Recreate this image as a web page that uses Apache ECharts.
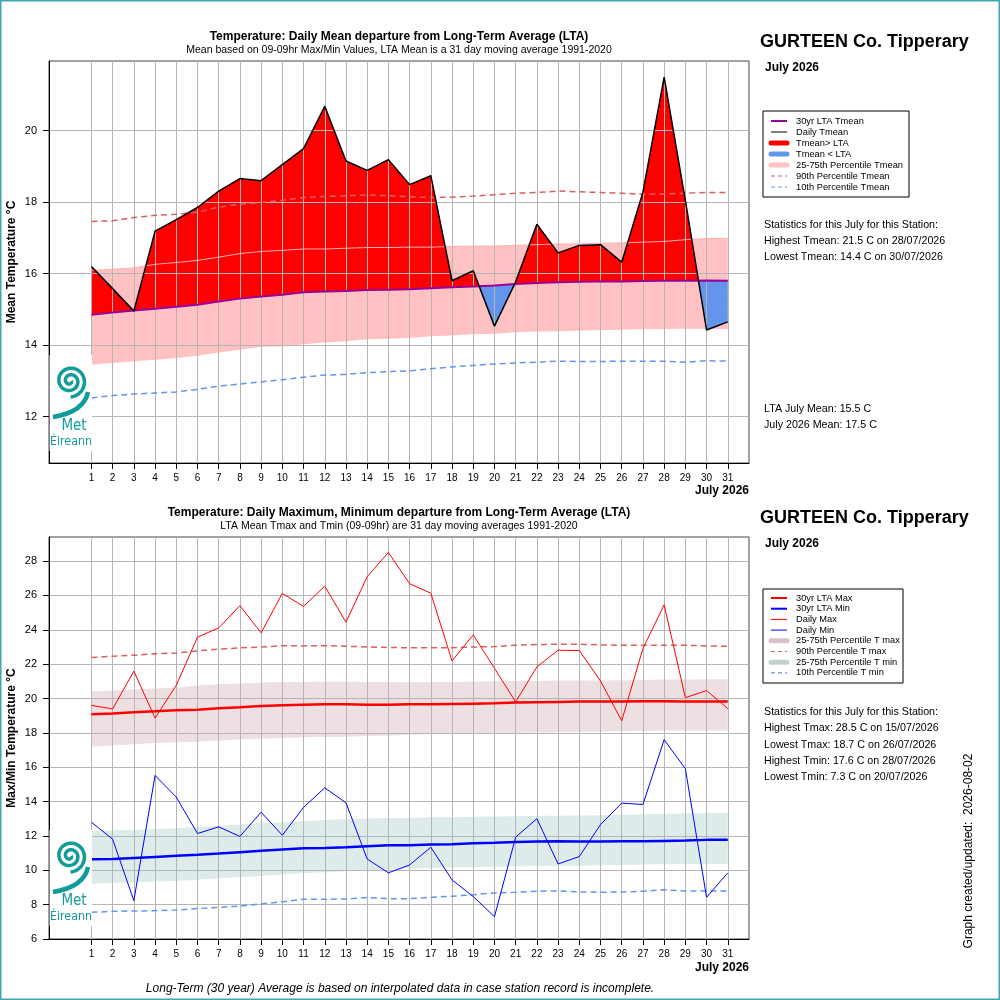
<!DOCTYPE html>
<html>
<head>
<meta charset="utf-8">
<title>GURTEEN Co. Tipperary - July 2026</title>
<script src="https://cdn.jsdelivr.net/npm/echarts@6/dist/echarts.min.js"></script>
<style>
  html, body { margin: 0; padding: 0; background: #fff; }
  #chart { width: 1000px; height: 1000px; }
</style>
</head>
<body>
<div id="chart"></div>
<script>
// ---- data ----
const days = [1, 2, 3, 4, 5, 6, 7, 8, 9, 10, 11, 12, 13, 14, 15, 16, 17, 18, 19, 20, 21, 22, 23, 24, 25, 26, 27, 28, 29, 30, 31];

// top panel: daily mean
const tmeanDaily = [16.20, 15.58, 14.95, 17.19, 17.51, 17.85, 18.31, 18.66, 18.60, 19.05, 19.50, 20.68, 19.15, 18.89, 19.19, 18.49, 18.74, 15.80, 16.08, 14.53, 15.77, 17.38, 16.58, 16.79, 16.81, 16.32, 18.28, 21.50, 18.05, 14.42, 14.65];
const ltaTmean = [14.85, 14.91, 14.97, 15.02, 15.07, 15.13, 15.22, 15.30, 15.36, 15.41, 15.48, 15.50, 15.51, 15.54, 15.55, 15.56, 15.59, 15.62, 15.64, 15.67, 15.71, 15.74, 15.76, 15.77, 15.78, 15.78, 15.79, 15.80, 15.80, 15.81, 15.80];
const p90Tmean = [17.46, 17.48, 17.57, 17.63, 17.66, 17.72, 17.86, 17.94, 17.99, 18.05, 18.13, 18.16, 18.18, 18.20, 18.18, 18.15, 18.13, 18.14, 18.17, 18.21, 18.25, 18.27, 18.31, 18.29, 18.27, 18.25, 18.22, 18.23, 18.25, 18.27, 18.27];
const p10Tmean = [12.52, 12.59, 12.63, 12.66, 12.69, 12.76, 12.85, 12.91, 12.97, 13.03, 13.10, 13.16, 13.18, 13.23, 13.26, 13.28, 13.34, 13.39, 13.43, 13.47, 13.50, 13.52, 13.55, 13.54, 13.54, 13.55, 13.55, 13.55, 13.52, 13.56, 13.55];
const p25Tmean = [13.46, 13.50, 13.55, 13.59, 13.64, 13.70, 13.79, 13.87, 13.95, 13.97, 14.02, 14.07, 14.11, 14.16, 14.18, 14.20, 14.25, 14.27, 14.30, 14.32, 14.36, 14.38, 14.39, 14.40, 14.42, 14.43, 14.45, 14.45, 14.46, 14.46, 14.45];
const p75Tmean = [16.09, 16.12, 16.16, 16.26, 16.31, 16.37, 16.46, 16.56, 16.62, 16.65, 16.69, 16.69, 16.71, 16.73, 16.73, 16.74, 16.74, 16.76, 16.77, 16.77, 16.79, 16.81, 16.83, 16.83, 16.85, 16.86, 16.88, 16.90, 16.95, 16.98, 16.99];

// bottom panel: daily max / min
const tmaxDaily = [19.60, 19.39, 21.59, 18.86, 20.77, 23.57, 24.11, 25.40, 23.82, 26.12, 25.36, 26.54, 24.44, 27.09, 28.50, 26.68, 26.13, 22.19, 23.70, 21.76, 19.80, 21.84, 22.81, 22.79, 21.02, 18.70, 22.91, 25.45, 20.05, 20.46, 19.41];
const tminDaily = [12.80, 11.81, 8.23, 15.52, 14.26, 12.14, 12.53, 11.97, 13.38, 12.04, 13.66, 14.80, 13.93, 10.66, 9.85, 10.31, 11.34, 9.44, 8.47, 7.30, 11.93, 13.00, 10.37, 10.80, 12.66, 13.91, 13.83, 17.60, 15.91, 8.43, 9.85];
const ltaTmax = [19.08, 19.12, 19.20, 19.25, 19.31, 19.35, 19.43, 19.49, 19.56, 19.60, 19.64, 19.66, 19.66, 19.64, 19.64, 19.66, 19.66, 19.68, 19.70, 19.72, 19.76, 19.78, 19.80, 19.82, 19.82, 19.82, 19.84, 19.84, 19.82, 19.82, 19.82];
const ltaTmin = [10.64, 10.66, 10.72, 10.78, 10.84, 10.90, 10.97, 11.05, 11.13, 11.21, 11.28, 11.30, 11.34, 11.40, 11.46, 11.46, 11.50, 11.52, 11.58, 11.60, 11.65, 11.67, 11.69, 11.67, 11.67, 11.69, 11.69, 11.71, 11.73, 11.77, 11.77];
const p90Tmax = [22.38, 22.46, 22.52, 22.60, 22.65, 22.77, 22.87, 22.95, 22.99, 23.08, 23.06, 23.08, 23.04, 23.00, 22.97, 22.95, 22.95, 22.95, 23.00, 23.02, 23.10, 23.14, 23.16, 23.16, 23.12, 23.10, 23.10, 23.10, 23.10, 23.06, 23.04];
const p10Tmin = [7.55, 7.61, 7.63, 7.65, 7.69, 7.77, 7.84, 7.92, 8.04, 8.17, 8.31, 8.31, 8.33, 8.41, 8.35, 8.35, 8.43, 8.49, 8.58, 8.68, 8.72, 8.78, 8.80, 8.74, 8.72, 8.74, 8.78, 8.86, 8.80, 8.80, 8.80];
const p25Tmax = [17.21, 17.27, 17.33, 17.41, 17.45, 17.48, 17.56, 17.62, 17.66, 17.70, 17.74, 17.76, 17.78, 17.82, 17.83, 17.91, 17.93, 17.95, 17.97, 17.99, 18.00, 18.02, 18.04, 18.05, 18.06, 18.09, 18.11, 18.13, 18.13, 18.13, 18.13];
const p75Tmax = [20.42, 20.47, 20.52, 20.58, 20.63, 20.75, 20.83, 20.87, 20.93, 20.96, 20.96, 20.98, 20.98, 20.96, 20.96, 20.94, 20.96, 20.96, 20.98, 21.00, 21.02, 21.02, 21.04, 21.04, 21.04, 21.06, 21.08, 21.10, 21.11, 21.12, 21.12];
const p25Tmin = [9.22, 9.26, 9.30, 9.34, 9.38, 9.45, 9.53, 9.60, 9.67, 9.75, 9.83, 9.89, 9.94, 9.99, 10.04, 10.10, 10.13, 10.16, 10.18, 10.20, 10.23, 10.25, 10.26, 10.27, 10.29, 10.31, 10.33, 10.35, 10.36, 10.37, 10.37];
const p75Tmin = [12.28, 12.31, 12.35, 12.40, 12.45, 12.52, 12.59, 12.67, 12.74, 12.80, 12.86, 12.92, 12.98, 13.02, 13.05, 13.05, 13.09, 13.09, 13.11, 13.13, 13.15, 13.17, 13.18, 13.19, 13.21, 13.23, 13.26, 13.29, 13.31, 13.33, 13.34];

const ticksTop = [12, 14, 16, 18, 20];
const ticksBottom = [6, 8, 10, 12, 14, 16, 18, 20, 22, 24, 26, 28];

const statsTop = ['Statistics for this July for this Station:', 'Highest Tmean: 21.5 C on 28/07/2026', 'Lowest Tmean: 14.4 C on 30/07/2026'];
const meansTop = ['LTA July Mean: 15.5 C', 'July 2026 Mean: 17.5 C'];
const statsBottom = ['Statistics for this July for this Station:', 'Highest Tmax: 28.5 C on 15/07/2026', 'Lowest Tmax: 18.7 C on 26/07/2026', 'Highest Tmin: 17.6 C on 28/07/2026', 'Lowest Tmin: 7.3 C on 20/07/2026'];

// ---- helpers ----
const FONT = 'Liberation Sans, Arial, sans-serif';
const TEAL = '#129b9b';
const DASH = [6, 4];

const pairs = vals => days.map((d, i) => [d, vals[i]]);

function bandPoly(lo, hi) {
    return pairs(hi).concat(pairs(lo).reverse());
}

// polygons between a daily line and its LTA, split where they cross
function splitFill(vals, base) {
    const above = [], below = [], ref = [];
    for (let i = 0; i < days.length; i++) {
        above.push([days[i], Math.max(vals[i], base[i])]);
        below.push([days[i], Math.min(vals[i], base[i])]);
        ref.push([days[i], base[i]]);
        if (i < days.length - 1) {
            const e0 = vals[i] - base[i], e1 = vals[i + 1] - base[i + 1];
            if (e0 * e1 < 0) {
                const t = e0 / (e0 - e1);
                const x = days[i] + t * (days[i + 1] - days[i]);
                const y = vals[i] + t * (vals[i + 1] - vals[i]);
                above.push([x, y]); below.push([x, y]); ref.push([x, y]);
            }
        }
    }
    const back = ref.slice().reverse();
    return { above: above.concat(back), below: below.concat(back) };
}

function polySeries(name, g, poly, color, z) {
    return {
        name, type: 'custom', xAxisIndex: g, yAxisIndex: g, z, silent: true,
        data: poly,
        renderItem: (params, api) => {
            if (params.dataIndex !== 0) return null;
            return {
                type: 'polygon',
                shape: { points: poly.map(p => api.coord(p)) },
                style: { fill: color }
            };
        }
    };
}

function lineSeries(name, g, vals, color, width, type, z) {
    return {
        name, type: 'line', xAxisIndex: g, yAxisIndex: g, z, silent: true,
        data: pairs(vals), symbol: 'none',
        lineStyle: { color, width, type: type || 'solid' }
    };
}

function xAxisFor(g) {
    return {
        type: 'value', gridIndex: g, min: -1, max: 32, z: 3,
        axisLine: { show: true, onZero: false, lineStyle: { color: '#000' } },
        axisTick: { show: true, customValues: days, length: 6, lineStyle: { color: '#000' } },
        axisLabel: { customValues: days, color: '#000', fontSize: 10, fontFamily: FONT, margin: 10 },
        splitLine: { show: true, lineStyle: { color: '#b5b5b5', width: 1 } }
    };
}

function yAxisFor(g, min, max, ticks) {
    return {
        type: 'value', gridIndex: g, min, max, z: 3,
        axisLine: { show: true, onZero: false, lineStyle: { color: '#000' } },
        axisTick: { show: true, customValues: ticks, length: 6, lineStyle: { color: '#000' } },
        axisLabel: { customValues: ticks, color: '#000', fontSize: 11, fontFamily: FONT, margin: 12 },
        splitLine: { show: true, lineStyle: { color: '#b5b5b5', width: 1 } }
    };
}

function txt(x, y, text, size, opts) {
    const o = opts || {};
    return {
        type: 'text', x, y, z: 30, rotation: o.rotation || 0,
        style: {
            text, fill: '#000', fontSize: size, fontFamily: FONT,
            fontWeight: o.bold ? 'bold' : 'normal', fontStyle: o.italic ? 'italic' : 'normal',
            textAlign: o.align || 'left', textVerticalAlign: 'middle'
        }
    };
}

function legendBox(x, y, w, h, rows, y0, step) {
    const els = [{ type: 'rect', z: 30, shape: { x, y, width: w, height: h }, style: { fill: '#fff', stroke: '#000', lineWidth: 1 } }];
    rows.forEach((r, i) => {
        const yy = y0 + i * step;
        els.push({
            type: 'line', z: 31,
            shape: { x1: 771, y1: yy, x2: 787, y2: yy },
            style: { stroke: r.color, lineWidth: r.width, lineDash: r.dash || null, lineCap: r.width > 3 ? 'round' : 'butt' }
        });
        els.push(txt(796, yy, r.label, 9.3));
    });
    return els;
}

function logo(dy) {
    const cx = 70, cy = 381 + dy;
    const spiral = [];
    for (let a = 0; a <= Math.PI * 4.5; a += 0.1) {
        const r = 1.2 + a * 1.05;
        spiral.push([cx + r * Math.cos(a), cy + r * Math.sin(a)]);
    }
    return [
        { type: 'rect', z: 20, shape: { x: 49.5, y: 355 + dy, width: 42.5, height: 96 }, style: { fill: '#fff' } },
        { type: 'polyline', z: 21, shape: { points: spiral }, style: { stroke: TEAL, lineWidth: 3.5, fill: null } },
        { type: 'bezierCurve', z: 21, shape: { x1: 88, y1: 392 + dy, cpx1: 84, cpy1: 412 + dy, x2: 53, y2: 417 + dy }, style: { stroke: TEAL, lineWidth: 4.5, fill: null } },
        { type: 'text', z: 21, x: 74, y: 426 + dy, style: { text: 'Met', fill: TEAL, fontSize: 15, fontFamily: 'DejaVu Sans Condensed, sans-serif', textAlign: 'center', textVerticalAlign: 'middle' } },
        { type: 'text', z: 21, x: 71, y: 442 + dy, style: { text: 'Éireann', fill: TEAL, fontSize: 12.3, fontFamily: 'DejaVu Sans Condensed, sans-serif', textAlign: 'center', textVerticalAlign: 'middle' } }
    ];
}

// ---- chart ----
const chart = echarts.init(document.getElementById('chart'));

const meanFill = splitFill(tmeanDaily, ltaTmean);

const legendTop = [
    { label: '30yr LTA Tmean', color: '#990099', width: 2 },
    { label: 'Daily Tmean', color: '#000', width: 1 },
    { label: 'Tmean> LTA', color: '#ff0000', width: 5 },
    { label: 'Tmean < LTA', color: '#6495ed', width: 5 },
    { label: '25-75th Percentile Tmean', color: '#ffc1c1', width: 5 },
    { label: '90th Percentile Tmean', color: '#d9605f', width: 1.2, dash: [4, 3] },
    { label: '10th Percentile Tmean', color: '#6495ed', width: 1.2, dash: [4, 3] }
];
const legendBottom = [
    { label: '30yr LTA Max', color: '#ff0000', width: 2 },
    { label: '30yr LTA Min', color: '#0000ff', width: 2 },
    { label: 'Daily Max', color: '#ff0000', width: 1 },
    { label: 'Daily Min', color: '#0000ff', width: 1 },
    { label: '25-75th Percentile T max', color: '#d6c3c8', width: 5 },
    { label: '90th Percentile T max', color: '#d9605f', width: 1.2, dash: [4, 3] },
    { label: '25-75th Percentile T min', color: '#c3d1d1', width: 5 },
    { label: '10th Percentile T min', color: '#6495ed', width: 1.2, dash: [4, 3] }
];

const graphics = [
    { type: 'rect', z: 40, shape: { x: 0.75, y: 0.75, width: 998.5, height: 998.5 }, style: { fill: null, stroke: '#3fa7b1', lineWidth: 1.5 } },
    // titles
    txt(399, 37, 'Temperature: Daily Mean departure from Long-Term Average (LTA)', 12, { bold: true, align: 'center' }),
    txt(399, 50, 'Mean based on 09-09hr Max/Min Values, LTA Mean is a 31 day moving average 1991-2020', 10.5, { align: 'center' }),
    txt(399, 513, 'Temperature: Daily Maximum, Minimum departure from Long-Term Average (LTA)', 12, { bold: true, align: 'center' }),
    txt(399, 526, 'LTA Mean Tmax and Tmin (09-09hr) are 31 day moving averages 1991-2020', 10.5, { align: 'center' }),
    // y axis titles
    txt(12, 262, 'Mean Temperature °C', 12, { bold: true, align: 'center', rotation: Math.PI / 2 }),
    txt(12, 738, 'Max/Min Temperature °C', 12, { bold: true, align: 'center', rotation: Math.PI / 2 }),
    // station headers
    txt(760, 42, 'GURTEEN Co. Tipperary', 18, { bold: true }),
    txt(765, 68, 'July 2026', 12, { bold: true }),
    txt(760, 518, 'GURTEEN Co. Tipperary', 18, { bold: true }),
    txt(765, 544, 'July 2026', 12, { bold: true }),
    // axis month labels
    txt(749, 491, 'July 2026', 12, { bold: true, align: 'right' }),
    txt(749, 968, 'July 2026', 12, { bold: true, align: 'right' }),
    // footer + created stamp
    txt(400, 989, 'Long-Term (30 year) Average is based on interpolated data in case station record is incomplete.', 12, { italic: true, align: 'center' }),
    txt(969, 851, 'Graph created/updated:  2026-08-02', 12, { align: 'center', rotation: Math.PI / 2 })
];
statsTop.forEach((s, i) => graphics.push(txt(764, 225 + i * 16, s, 10.7)));
meansTop.forEach((s, i) => graphics.push(txt(764, 409 + i * 16, s, 10.7)));
statsBottom.forEach((s, i) => graphics.push(txt(764, 712 + i * 16.3, s, 10.7)));
legendBox(763, 111, 146, 86, legendTop, 121, 11).forEach(e => graphics.push(e));
legendBox(763, 589, 140, 94, legendBottom, 598, 10.7).forEach(e => graphics.push(e));
logo(0).forEach(e => graphics.push(e));
logo(475).forEach(e => graphics.push(e));

chart.setOption({
    animation: false,
    backgroundColor: '#fff',
    textStyle: { fontFamily: FONT },
    grid: [
        { left: 49, top: 61, width: 700, height: 402, outerBoundsMode: 'none', containLabel: false, show: true, borderColor: '#444', borderWidth: 1 },
        { left: 49, top: 537, width: 700, height: 402, outerBoundsMode: 'none', containLabel: false, show: true, borderColor: '#444', borderWidth: 1 }
    ],
    xAxis: [xAxisFor(0), xAxisFor(1)],
    yAxis: [
        yAxisFor(0, 10.7, 21.95, ticksTop),
        yAxisFor(1, 6, 29.4, ticksBottom)
    ],
    series: [
        // top panel
        polySeries('25-75th Percentile Tmean', 0, bandPoly(p25Tmean, p75Tmean), '#ffc1c1', 1),
        polySeries('Tmean> LTA', 0, meanFill.above, '#ff0000', 1),
        polySeries('Tmean < LTA', 0, meanFill.below, '#6495ed', 1),
        lineSeries('75th edge', 0, p75Tmean, '#ffb0b0', 1, 'solid', 4),
        lineSeries('90th Percentile Tmean', 0, p90Tmean, '#d9605f', 1.5, DASH, 5),
        lineSeries('10th Percentile Tmean', 0, p10Tmean, '#6495ed', 1.5, DASH, 5),
        lineSeries('30yr LTA Tmean', 0, ltaTmean, '#990099', 2, 'solid', 6),
        lineSeries('Daily Tmean', 0, tmeanDaily, '#000', 1.5, 'solid', 7),
        // bottom panel
        polySeries('25-75th Percentile T max', 1, bandPoly(p25Tmax, p75Tmax), '#eedfe3', 1),
        polySeries('25-75th Percentile T min', 1, bandPoly(p25Tmin, p75Tmin), '#ddeceb', 1),
        lineSeries('90th Percentile T max', 1, p90Tmax, '#d9605f', 1.5, DASH, 5),
        lineSeries('10th Percentile T min', 1, p10Tmin, '#6495ed', 1.5, DASH, 5),
        lineSeries('30yr LTA Max', 1, ltaTmax, '#ff0000', 2.5, 'solid', 6),
        lineSeries('30yr LTA Min', 1, ltaTmin, '#0000ff', 2.5, 'solid', 6),
        lineSeries('Daily Max', 1, tmaxDaily, '#ff0000', 1, 'solid', 7),
        lineSeries('Daily Min', 1, tminDaily, '#0000ff', 1, 'solid', 7)
    ],
    graphic: graphics
});
</script>
</body>
</html>
